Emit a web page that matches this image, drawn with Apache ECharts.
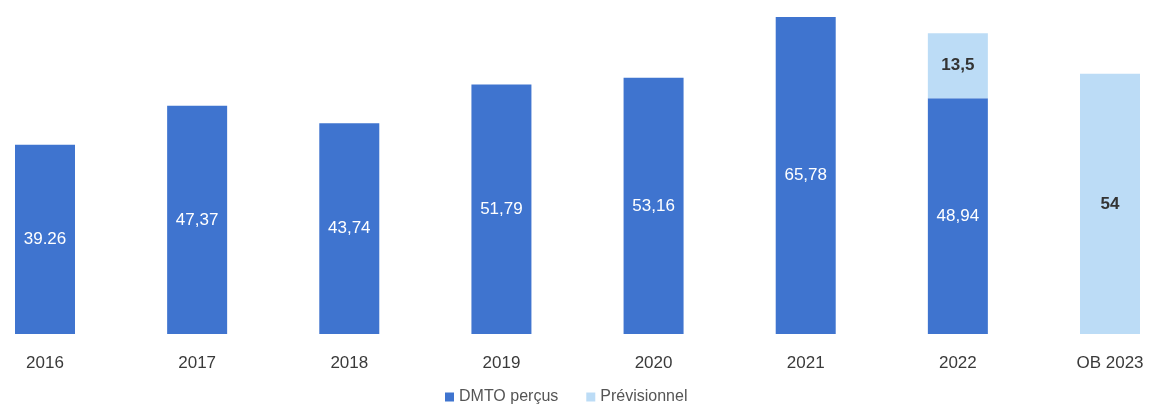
<!DOCTYPE html>
<html><head><meta charset="utf-8">
<script src="https://cdn.jsdelivr.net/npm/echarts@6/dist/echarts.min.js"></script>
<style>html,body{margin:0;padding:0;background:#fff}#c{width:1150px;height:406px}</style>
</head><body><div id="c"></div>
<script>
const categories = ['2016','2017','2018','2019','2020','2021','2022','OB 2023'];
const dmtoValues = [39.26, 47.37, 43.74, 51.79, 53.16, 65.78, 48.94, null];
const dmtoLabels = ['39.26','47,37','43,74','51,79','53,16','65,78','48,94',''];
const previValues = [null, null, null, null, null, null, 13.5, 54];
const previLabels = ['','','','','','','13,5','54'];

const chart = echarts.init(document.getElementById('c'));
chart.setOption({
  animation: false,
  backgroundColor: '#fff',
  grid: { left: 45, right: 40, top: 16, bottom: 72 },
  xAxis: {
    type: 'category', data: categories, boundaryGap: false,
    axisLine: { show: false }, axisTick: { show: false },
    axisLabel: { color: '#3a3a3a', fontSize: 17, fontFamily: 'Liberation Sans', margin: 21 }
  },
  yAxis: { type: 'value', min: 0, max: 66, show: false, splitLine: { show: false } },
  legend: {
    top: 389, left: 445, itemWidth: 9, itemHeight: 9, itemGap: 28, icon: 'rect', padding: 0,
    textStyle: { color: '#555', fontSize: 16, fontFamily: 'Liberation Sans' },
    data: ['DMTO perçus', 'Prévisionnel']
  },
  series: [
    {
      name: 'DMTO perçus', type: 'bar', stack: 's', barWidth: 60,
      data: dmtoValues,
      itemStyle: { color: '#3f74cf' },
      label: { show: true, position: 'inside', color: '#fff', fontSize: 17, fontFamily: 'Liberation Sans',
        formatter: p => dmtoLabels[p.dataIndex] }
    },
    {
      name: 'Prévisionnel', type: 'bar', stack: 's', barWidth: 60,
      data: previValues,
      itemStyle: { color: '#bcdcf6' },
      label: { show: true, position: 'inside', color: '#333', fontSize: 17, fontWeight: 'bold', fontFamily: 'Liberation Sans',
        formatter: p => previLabels[p.dataIndex] }
    }
  ]
});
</script></body></html>
